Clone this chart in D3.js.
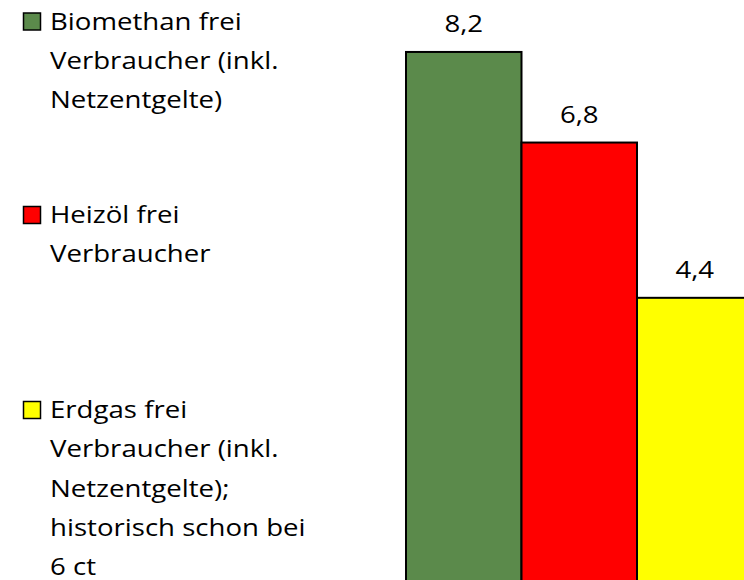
<!DOCTYPE html>
<html><head><meta charset="utf-8">
<script src="https://cdn.jsdelivr.net/npm/d3@7"></script>
<style>html,body{margin:0;padding:0;background:#fff;overflow:hidden}</style>
</head><body>
<svg id="c" width="744" height="580"></svg>
<script>
const categories = ["Biomethan", "Heizöl", "Erdgas"];
const values = [8.2, 6.8, 4.4];
const valueLabels = ["8,2", "6,8", "4,4"];
const colors = ["#5B8A4B", "#FF0000", "#FFFF00"];
const legendLines = [
  ["Biomethan frei", "Verbraucher (inkl.", "Netzentgelte)"],
  ["Heizöl frei", "Verbraucher"],
  ["Erdgas frei", "Verbraucher (inkl.", "Netzentgelte);", "historisch schon bei", "6 ct"]
];

const svg = d3.select("#c");
const font = "'Open Sans', sans-serif";
const fs = 24;
const sx = 1.15;

const y = d3.scaleLinear().domain([0, 9]).range([582.5, 582.5 - 9 * 64.7]);
const x = d3.scaleBand().domain(categories).range([406, 752.5]).padding(0);

svg.selectAll("rect.bar").data(values).join("rect")
  .attr("class", "bar")
  .attr("x", (d, i) => x(categories[i]))
  .attr("y", d => y(d))
  .attr("width", x.bandwidth())
  .attr("height", d => y(0) - y(d))
  .attr("fill", (d, i) => colors[i])
  .attr("stroke", "#000").attr("stroke-width", 2);

svg.selectAll("text.val").data(values).join("text")
  .attr("class", "val")
  .attr("transform", (d, i) => `translate(${x(categories[i]) + x.bandwidth() / 2},${y(d) - 20}) scale(${sx},1)`)
  .attr("text-anchor", "middle")
  .attr("font-family", font).attr("font-size", fs)
  .attr("fill", "#000")
  .text((d, i) => valueLabels[i]);

const legendTop = [29.5, 223, 418];
const lh = 39.3;
legendLines.forEach((lines, i) => {
  const g = svg.append("g");
  g.append("rect")
    .attr("x", 23.5).attr("y", legendTop[i] - 16.5)
    .attr("width", 17).attr("height", 17)
    .attr("fill", colors[i]).attr("stroke", "#000").attr("stroke-width", 1.5);
  lines.forEach((t, j) => {
    g.append("text")
      .attr("transform", `translate(50,${legendTop[i] + j * lh}) scale(${sx},1)`)
      .attr("font-family", font).attr("font-size", fs)
      .attr("fill", "#000")
      .text(t);
  });
});
</script>
</body></html>
